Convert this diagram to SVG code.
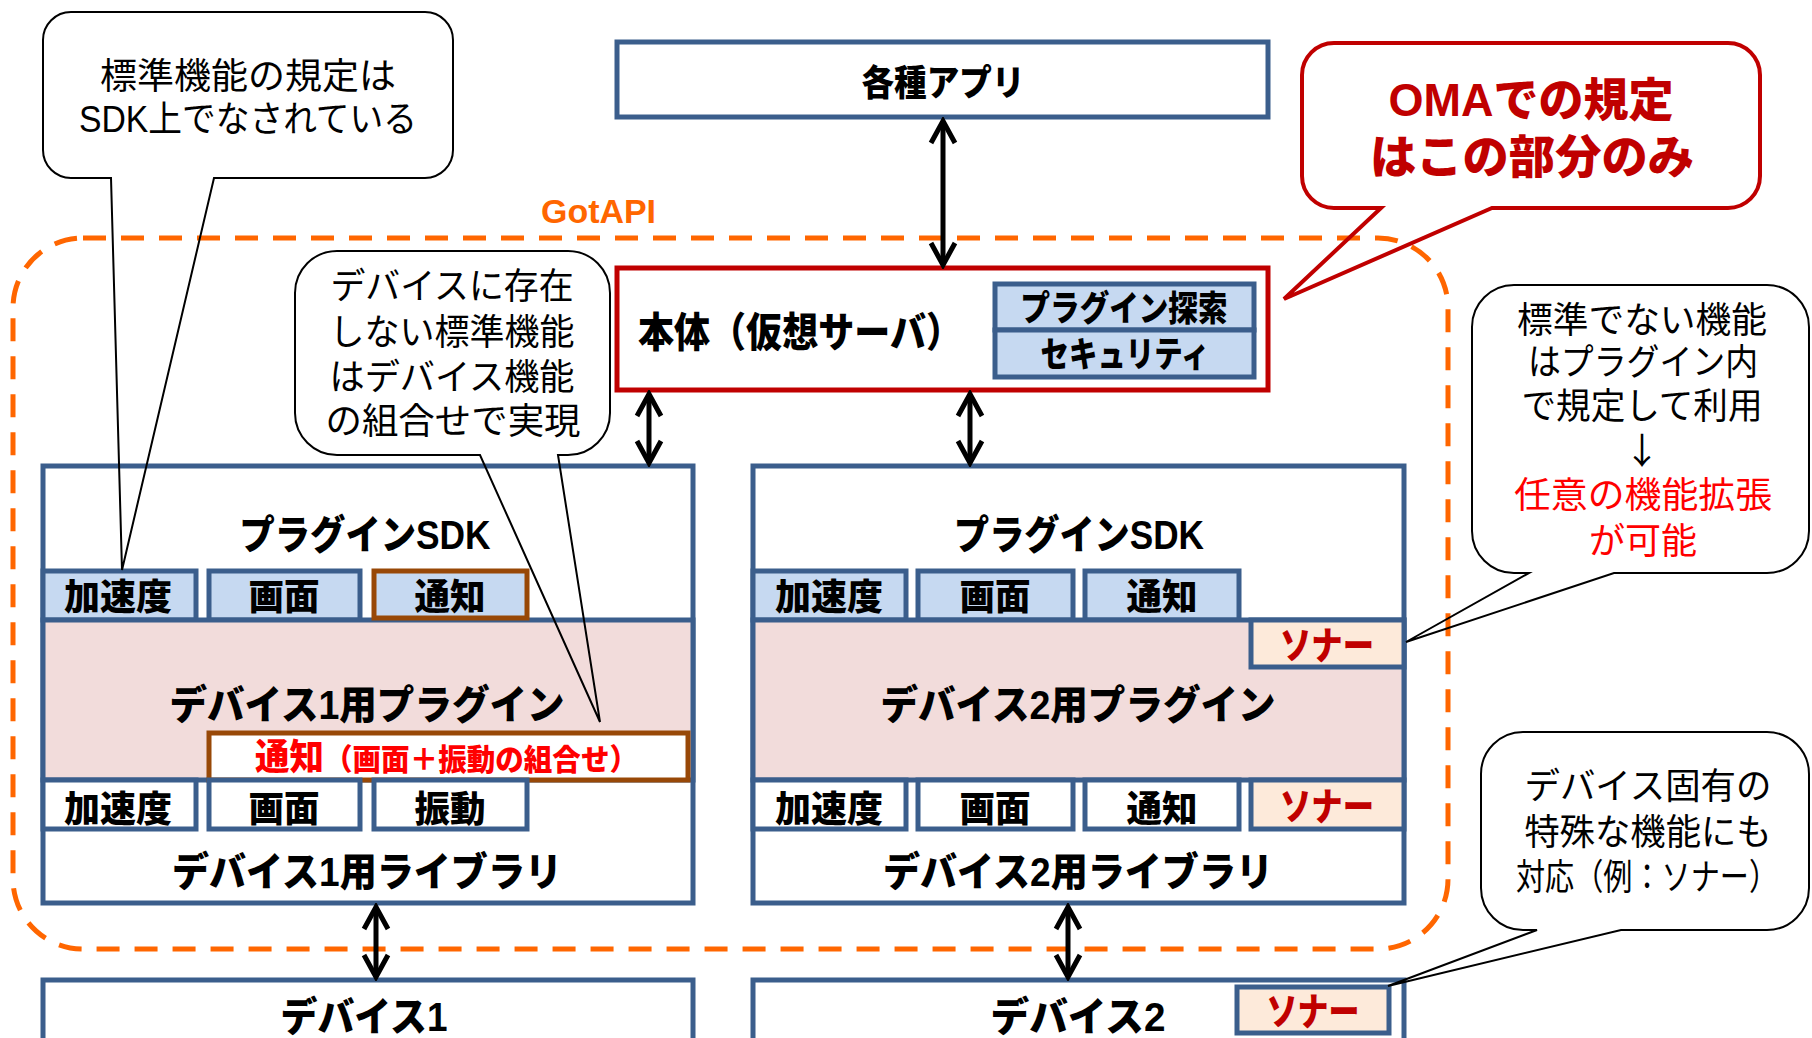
<svg xmlns="http://www.w3.org/2000/svg" width="1812" height="1038" viewBox="0 0 1812 1038">
<defs>
<style>
.bg{fill:#ffffff}
.box{fill:#ffffff;stroke:#3B5E8C;stroke-width:5}
.blue{fill:#C6D9F1;stroke:#3B5E8C;stroke-width:5}
.pink{fill:#F2DCDB;stroke:#3B5E8C;stroke-width:5}
.peach{fill:#FDEADA;stroke:#3B5E8C;stroke-width:5}
.brown{stroke:#984807;stroke-width:5}
.core{fill:#ffffff;stroke:#C00000;stroke-width:5}
.gotapi{fill:none;stroke:#FF6600;stroke-width:5;stroke-dasharray:23 15}
.b{font-family:"Liberation Sans","Noto Sans CJK JP",sans-serif;font-weight:900;fill:#000;text-anchor:middle}
.r{font-family:"Liberation Sans","Noto Sans CJK JP",sans-serif;font-weight:400;fill:#000;text-anchor:middle;font-size:36px}
.red{fill:#C00000}
.bright{fill:#FF0000}
.call{fill:none;stroke:#000;stroke-width:2}
.callred{fill:none;stroke:#C00000;stroke-width:4;stroke-linejoin:miter}
.conn{stroke:#000;stroke-width:5;fill:none;marker-start:url(#ah);marker-end:url(#ah)}
</style>
<marker id="ah" markerUnits="userSpaceOnUse" viewBox="-28 -16 32 32" markerWidth="32" markerHeight="32" refX="0" refY="0" orient="auto-start-reverse">
<path d="M -22 -12 L 0 0 L -22 12" fill="none" stroke="#000" stroke-width="5"/>
</marker>
</defs>
<rect class="bg" x="0" y="0" width="1812" height="1038"/>

<g id="gotapi">
<rect class="gotapi" x="13" y="238" width="1435" height="711" rx="70" ry="70"/>
<text x="541" y="223" font-family="'Liberation Sans',sans-serif" font-weight="700" font-size="34" fill="#FF6600" textLength="115" lengthAdjust="spacingAndGlyphs">GotAPI</text>
</g>

<g id="apps">
<rect class="box" x="617" y="42" width="651" height="75"/>
<text class="b" x="943" y="96" font-size="36" textLength="163" lengthAdjust="spacingAndGlyphs">各種アプリ</text>
</g>

<g id="core">
<rect class="core" x="617" y="268" width="651" height="122"/>
<text class="b" x="638" y="347" font-size="41" style="text-anchor:start" textLength="324" lengthAdjust="spacingAndGlyphs">本体（仮想サーバ）</text>
<rect class="blue" x="995" y="284" width="259" height="46"/>
<text class="b" x="1124" y="321" font-size="35" textLength="207" lengthAdjust="spacingAndGlyphs">プラグイン探索</text>
<rect class="blue" x="995" y="330" width="259" height="47"/>
<text class="b" x="1125" y="367" font-size="35" textLength="169" lengthAdjust="spacingAndGlyphs">セキュリティ</text>
</g>

<g id="device1-stack">
<rect class="box" x="43" y="466" width="650" height="437"/>
<text class="b" x="365" y="549" font-size="40" textLength="251" lengthAdjust="spacingAndGlyphs">プラグインSDK</text>
<rect class="blue" x="43" y="571" width="153" height="49"/>
<text class="b" x="118" y="610" font-size="36" textLength="108" lengthAdjust="spacingAndGlyphs">加速度</text>
<rect class="blue" x="209" y="571" width="151" height="49"/>
<text class="b" x="284" y="610" font-size="36" textLength="71" lengthAdjust="spacingAndGlyphs">画面</text>
<rect class="pink" x="43" y="620" width="650" height="160"/>
<rect class="blue brown" x="374" y="571" width="153" height="47"/>
<text class="b" x="450" y="610" font-size="36" textLength="71" lengthAdjust="spacingAndGlyphs">通知</text>
<text class="b" x="367" y="719" font-size="40" textLength="395" lengthAdjust="spacingAndGlyphs">デバイス1用プラグイン</text>
<rect class="bg brown" x="209" y="733" width="479" height="47"/>
<text class="b bright" x="255" y="770" style="text-anchor:start"><tspan font-size="36" textLength="69" lengthAdjust="spacingAndGlyphs">通知</tspan><tspan font-size="30" textLength="314" lengthAdjust="spacingAndGlyphs">（画面＋振動の組合せ）</tspan></text>
<rect class="box" x="43" y="780" width="153" height="49"/>
<text class="b" x="118" y="822" font-size="36" textLength="108" lengthAdjust="spacingAndGlyphs">加速度</text>
<rect class="box" x="209" y="780" width="151" height="49"/>
<text class="b" x="284" y="822" font-size="36" textLength="71" lengthAdjust="spacingAndGlyphs">画面</text>
<rect class="box" x="374" y="780" width="153" height="49"/>
<text class="b" x="450" y="822" font-size="36" textLength="71" lengthAdjust="spacingAndGlyphs">振動</text>
<text class="b" x="367" y="886" font-size="40" textLength="390" lengthAdjust="spacingAndGlyphs">デバイス1用ライブラリ</text>
</g>

<g id="device2-stack">
<rect class="box" x="753" y="466" width="651" height="437"/>
<text class="b" x="1079" y="549" font-size="40" textLength="250" lengthAdjust="spacingAndGlyphs">プラグインSDK</text>
<rect class="blue" x="753" y="571" width="153" height="49"/>
<text class="b" x="829" y="610" font-size="36" textLength="108" lengthAdjust="spacingAndGlyphs">加速度</text>
<rect class="blue" x="918" y="571" width="155" height="49"/>
<text class="b" x="995" y="610" font-size="36" textLength="71" lengthAdjust="spacingAndGlyphs">画面</text>
<rect class="blue" x="1085" y="571" width="154" height="49"/>
<text class="b" x="1162" y="610" font-size="36" textLength="71" lengthAdjust="spacingAndGlyphs">通知</text>
<rect class="pink" x="753" y="620" width="651" height="160"/>
<rect class="peach" x="1251" y="620" width="153" height="47"/>
<text class="b red" x="1327" y="659" font-size="38" textLength="94" lengthAdjust="spacingAndGlyphs">ソナー</text>
<text class="b" x="1078" y="719" font-size="40" textLength="395" lengthAdjust="spacingAndGlyphs">デバイス2用プラグイン</text>
<rect class="box" x="753" y="780" width="153" height="49"/>
<text class="b" x="829" y="822" font-size="36" textLength="108" lengthAdjust="spacingAndGlyphs">加速度</text>
<rect class="box" x="918" y="780" width="155" height="49"/>
<text class="b" x="995" y="822" font-size="36" textLength="71" lengthAdjust="spacingAndGlyphs">画面</text>
<rect class="box" x="1085" y="780" width="154" height="49"/>
<text class="b" x="1162" y="822" font-size="36" textLength="71" lengthAdjust="spacingAndGlyphs">通知</text>
<rect class="peach" x="1251" y="780" width="153" height="49"/>
<text class="b red" x="1327" y="820" font-size="38" textLength="94" lengthAdjust="spacingAndGlyphs">ソナー</text>
<text class="b" x="1078" y="886" font-size="40" textLength="390" lengthAdjust="spacingAndGlyphs">デバイス2用ライブラリ</text>
</g>

<g id="device1">
<rect class="box" x="43" y="980" width="650" height="70"/>
<text class="b" x="364" y="1031" font-size="40" textLength="167" lengthAdjust="spacingAndGlyphs">デバイス1</text>
</g>

<g id="device2">
<rect class="box" x="753" y="980" width="651" height="70"/>
<text class="b" x="1078" y="1031" font-size="40" textLength="175" lengthAdjust="spacingAndGlyphs">デバイス2</text>
<rect class="peach" x="1237" y="987" width="152" height="46"/>
<text class="b red" x="1313" y="1025" font-size="38" textLength="93" lengthAdjust="spacingAndGlyphs">ソナー</text>
</g>

<g id="connectors">
<line class="conn" x1="943" y1="121" x2="943" y2="265"/>
<line class="conn" x1="649" y1="394" x2="649" y2="463"/>
<line class="conn" x1="970" y1="394" x2="970" y2="463"/>
<line class="conn" x1="376" y1="907" x2="376" y2="977"/>
<line class="conn" x1="1068" y1="907" x2="1068" y2="977"/>
</g>

<g id="callout-sdk">
<path class="call" d="M 71 12 H 425 A 28 28 0 0 1 453 40 V 150 A 28 28 0 0 1 425 178 H 214 L 122 570 L 111 178 H 71 A 28 28 0 0 1 43 150 V 40 A 28 28 0 0 1 71 12 Z"/>
<text class="r" x="248" y="89" textLength="296" lengthAdjust="spacingAndGlyphs">標準機能の規定は</text>
<text class="r" x="248" y="132" textLength="338" lengthAdjust="spacingAndGlyphs">SDK上でなされている</text>
</g>

<g id="callout-combine">
<path class="call" d="M 337 251 H 568 A 42 42 0 0 1 610 293 V 413 A 42 42 0 0 1 568 455 H 558 L 600 722 L 480 455 H 337 A 42 42 0 0 1 295 413 V 293 A 42 42 0 0 1 337 251 Z"/>
<text class="r" x="452" y="299" textLength="243" lengthAdjust="spacingAndGlyphs">デバイスに存在</text>
<text class="r" x="452" y="345" textLength="245" lengthAdjust="spacingAndGlyphs">しない標準機能</text>
<text class="r" x="452" y="390" textLength="245" lengthAdjust="spacingAndGlyphs">はデバイス機能</text>
<text class="r" x="453" y="434" textLength="255" lengthAdjust="spacingAndGlyphs">の組合せで実現</text>
</g>

<g id="callout-oma">
<path class="callred" d="M 1334 43 H 1728 A 32 32 0 0 1 1760 75 V 176 A 32 32 0 0 1 1728 208 H 1492 L 1284 299 L 1381 208 H 1334 A 32 32 0 0 1 1302 176 V 75 A 32 32 0 0 1 1334 43 Z"/>
<text class="b red" x="1531" y="116" font-size="46" textLength="285" lengthAdjust="spacingAndGlyphs">OMAでの規定</text>
<text class="b red" x="1532" y="173" font-size="46" textLength="324" lengthAdjust="spacingAndGlyphs">はこの部分のみ</text>
</g>

<g id="callout-ext">
<path class="call" d="M 1514 285 H 1767 A 42 42 0 0 1 1809 327 V 531 A 42 42 0 0 1 1767 573 H 1614 L 1406 642 L 1529 573 H 1514 A 42 42 0 0 1 1472 531 V 327 A 42 42 0 0 1 1514 285 Z"/>
<text class="r" x="1642" y="333" textLength="250" lengthAdjust="spacingAndGlyphs">標準でない機能</text>
<text class="r" x="1643" y="375" textLength="230" lengthAdjust="spacingAndGlyphs">はプラグイン内</text>
<text class="r" x="1642" y="419" textLength="241" lengthAdjust="spacingAndGlyphs">で規定して利用</text>
<text class="r" x="1642" y="464" font-size="30" style="font-family:'Noto Sans CJK JP',sans-serif">↓</text>
<text class="r bright" x="1643" y="508" textLength="258" lengthAdjust="spacingAndGlyphs">任意の機能拡張</text>
<text class="r bright" x="1643" y="554" textLength="108" lengthAdjust="spacingAndGlyphs">が可能</text>
</g>

<g id="callout-sonar">
<path class="call" d="M 1523 732 H 1767 A 42 42 0 0 1 1809 774 V 888 A 42 42 0 0 1 1767 930 H 1621 L 1388 986 L 1537 930 H 1523 A 42 42 0 0 1 1481 888 V 774 A 42 42 0 0 1 1523 732 Z"/>
<text class="r" x="1648" y="799" textLength="247" lengthAdjust="spacingAndGlyphs">デバイス固有の</text>
<text class="r" x="1648" y="845" textLength="247" lengthAdjust="spacingAndGlyphs">特殊な機能にも</text>
<text class="r" x="1647" y="890" font-size="33" textLength="262" lengthAdjust="spacingAndGlyphs">対応（例：ソナー）</text>
</g>
</svg>
